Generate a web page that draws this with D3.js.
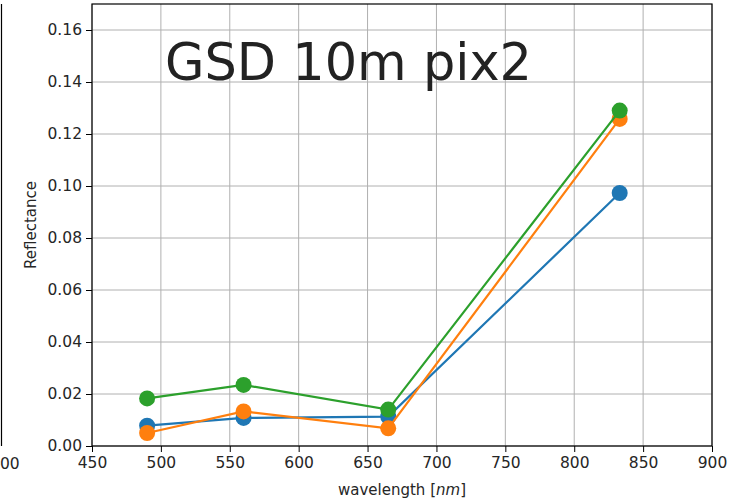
<!DOCTYPE html>
<html><head><meta charset="utf-8">
<script src="https://cdn.jsdelivr.net/npm/d3@7"></script>
<style>body{margin:0;background:#fff}svg{display:block}text{font-family:"DejaVu Sans",sans-serif}</style>
</head><body>
<svg id="c" width="746" height="502"></svg>
<script>
const wavelengths = [490, 560, 665, 833];
const seriesBlue = [0.0078, 0.0108, 0.0113, 0.0973];
const seriesOrange = [0.0050, 0.0133, 0.0068, 0.1258];
const seriesGreen = [0.0183, 0.0235, 0.0140, 0.1290];
const colors = ["#1f77b4", "#ff7f0e", "#2ca02c"];
const xTicks = [450, 500, 550, 600, 650, 700, 750, 800, 850, 900];
const yTicks = [0.00, 0.02, 0.04, 0.06, 0.08, 0.10, 0.12, 0.14, 0.16];
const titleText = "GSD 10m pix2";
const neighborTickLabel = "00";

const svg = d3.select("#c");
const L = 92, R = 712, T = 4, B = 446;
const x = d3.scaleLinear().domain([450, 900]).range([L, R]);
const y = d3.scaleLinear().domain([0, 0.17]).range([B, T]);
const tickFont = 15.5, labelFont = 15;

// partial neighbor chart on the left
svg.append("line").attr("x1", 1.5).attr("x2", 1.5).attr("y1", 4).attr("y2", 446).attr("stroke", "#000").attr("stroke-width", 1.2);
svg.append("text").attr("x", 0).attr("y", 469).attr("text-anchor", "start").attr("font-size", tickFont).attr("fill", "#262626").text(neighborTickLabel);

// grid
svg.append("g").selectAll("line").data(xTicks).join("line")
  .attr("x1", d => x(d)).attr("x2", d => x(d)).attr("y1", T).attr("y2", B)
  .attr("stroke", "#b0b0b0").attr("stroke-width", 1);
svg.append("g").selectAll("line").data(yTicks).join("line")
  .attr("x1", L).attr("x2", R).attr("y1", d => y(d)).attr("y2", d => y(d))
  .attr("stroke", "#b0b0b0").attr("stroke-width", 1);

// axes
const xAxis = d3.axisBottom(x).tickValues(xTicks).tickSize(6).tickPadding(3).tickFormat(d3.format("d"));
const yAxis = d3.axisLeft(y).tickValues(yTicks).tickSize(6).tickPadding(4).tickFormat(d3.format(".2f"));
const gx = svg.append("g").attr("transform", `translate(0,${B})`).call(xAxis);
const gy = svg.append("g").attr("transform", `translate(${L},0)`).call(yAxis);
[gx, gy].forEach(g => {
  g.select(".domain").remove();
  g.selectAll("text").attr("font-size", tickFont).attr("fill", "#262626").attr("font-family", "DejaVu Sans");
  g.selectAll("line").attr("stroke", "#000").attr("stroke-width", 1);
});
gx.selectAll("text").attr("dy", "0.85em");

// title text inside
svg.append("text").attr("x", 165).attr("y", 80).attr("font-size", 51).attr("fill", "#222")
  .attr("font-family", "Noto Sans").attr("textLength", 367).attr("lengthAdjust", "spacingAndGlyphs").text(titleText);

// series
const line = d3.line().x((d, i) => x(wavelengths[i])).y(d => y(d));
[seriesBlue, seriesOrange, seriesGreen].forEach((s, k) => {
  svg.append("path").datum(s).attr("d", line).attr("fill", "none").attr("stroke", colors[k]).attr("stroke-width", 2.2);
  svg.append("g").selectAll("circle").data(s).join("circle")
    .attr("cx", (d, i) => x(wavelengths[i])).attr("cy", d => y(d)).attr("r", 8).attr("fill", colors[k]);
});

// frame
svg.append("rect").attr("x", L).attr("y", T).attr("width", R - L).attr("height", B - T)
  .attr("fill", "none").attr("stroke", "#000").attr("stroke-width", 1.2);

// labels
svg.append("text").attr("transform", `translate(36,${(T + B) / 2}) rotate(-90)`).attr("text-anchor", "middle")
  .attr("font-size", labelFont).attr("fill", "#262626").text("Reflectance");
const xl = svg.append("text").attr("x", 402).attr("y", 495).attr("text-anchor", "middle").attr("font-size", labelFont).attr("fill", "#262626");
xl.append("tspan").text("wavelength [");
xl.append("tspan").attr("font-style", "italic").text("nm");
xl.append("tspan").text("]");
</script>
</body></html>
